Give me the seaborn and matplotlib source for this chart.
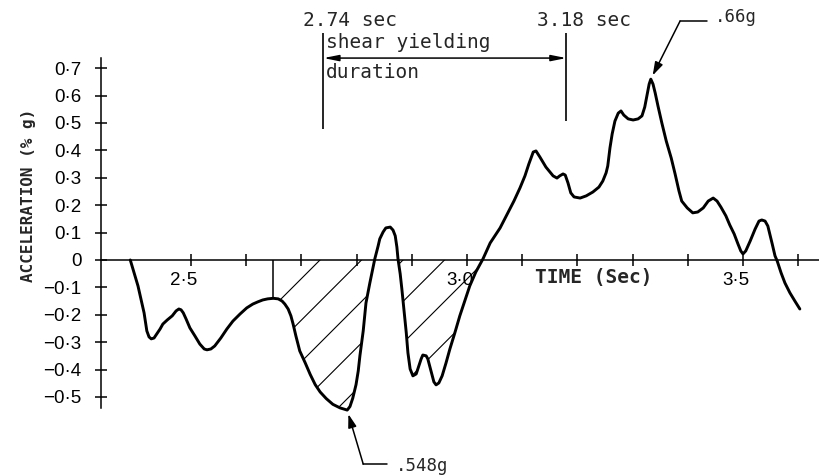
import numpy as np
import pandas as pd
import matplotlib
matplotlib.use("Agg")
import matplotlib.pyplot as plt
import seaborn as sns
from matplotlib.path import Path
from matplotlib.transforms import ScaledTranslation

# Ground acceleration record (time in seconds, acceleration in g)
time_s = np.array([
    2.390, 2.397, 2.404, 2.409, 2.415, 2.420, 2.424, 2.428, 2.433, 2.438,
    2.444, 2.449, 2.457, 2.466, 2.473, 2.478, 2.482, 2.486, 2.491, 2.498,
    2.507, 2.516, 2.524, 2.529, 2.536, 2.543, 2.554, 2.565, 2.576, 2.589,
    2.601, 2.612, 2.621, 2.630, 2.639, 2.649, 2.658, 2.665, 2.670, 2.676,
    2.681, 2.685, 2.690, 2.697, 2.707, 2.716, 2.725, 2.734, 2.745, 2.757,
    2.770, 2.783, 2.788, 2.793, 2.799, 2.803, 2.806, 2.812, 2.817, 2.824,
    2.833, 2.839, 2.842, 2.848, 2.853, 2.861, 2.866, 2.870, 2.873, 2.875,
    2.879, 2.882, 2.886, 2.890, 2.893, 2.897, 2.902, 2.908, 2.911, 2.917,
    2.920, 2.926, 2.929, 2.933, 2.937, 2.940, 2.944, 2.949, 2.955, 2.962,
    2.969, 2.978, 2.987, 2.996, 3.005, 3.016, 3.029, 3.042, 3.060, 3.072,
    3.085, 3.096, 3.105, 3.112, 3.120, 3.125, 3.132, 3.143, 3.156, 3.163,
    3.168, 3.174, 3.178, 3.183, 3.188, 3.194, 3.205, 3.216, 3.228, 3.239,
    3.246, 3.252, 3.255, 3.259, 3.263, 3.268, 3.274, 3.279, 3.284, 3.292,
    3.301, 3.310, 3.317, 3.322, 3.326, 3.330, 3.333, 3.337, 3.341, 3.346,
    3.353, 3.361, 3.370, 3.377, 3.384, 3.389, 3.399, 3.409, 3.418, 3.428,
    3.437, 3.446, 3.453, 3.460, 3.469, 3.476, 3.484, 3.491, 3.496, 3.500,
    3.505, 3.513, 3.522, 3.529, 3.534, 3.540, 3.545, 3.549, 3.553, 3.558,
    3.562, 3.569, 3.576, 3.585, 3.594, 3.603,
])
accel_g = np.array([
    0.000, -0.047, -0.095, -0.139, -0.193, -0.259, -0.281, -0.288, -0.285, -0.270,
    -0.252, -0.234, -0.219, -0.204, -0.186, -0.179, -0.182, -0.193, -0.215, -0.248,
    -0.277, -0.307, -0.325, -0.328, -0.325, -0.314, -0.285, -0.252, -0.223, -0.197,
    -0.175, -0.161, -0.153, -0.146, -0.142, -0.140, -0.142, -0.150, -0.161, -0.179,
    -0.204, -0.234, -0.277, -0.332, -0.376, -0.418, -0.455, -0.482, -0.506, -0.527,
    -0.540, -0.548, -0.535, -0.505, -0.455, -0.405, -0.350, -0.259, -0.157, -0.084,
    0.004, 0.051, 0.077, 0.102, 0.117, 0.120, 0.109, 0.088, 0.047, 0.004,
    -0.051, -0.106, -0.186, -0.266, -0.339, -0.398, -0.423, -0.416, -0.398, -0.361,
    -0.347, -0.350, -0.361, -0.391, -0.420, -0.445, -0.456, -0.449, -0.423, -0.376,
    -0.325, -0.266, -0.204, -0.150, -0.095, -0.044, 0.004, 0.062, 0.117, 0.164,
    0.215, 0.263, 0.307, 0.350, 0.394, 0.398, 0.376, 0.339, 0.307, 0.299,
    0.307, 0.314, 0.310, 0.281, 0.245, 0.230, 0.226, 0.234, 0.248, 0.266,
    0.288, 0.318, 0.343, 0.409, 0.460, 0.507, 0.536, 0.544, 0.529, 0.515,
    0.511, 0.515, 0.526, 0.558, 0.599, 0.642, 0.660, 0.642, 0.609, 0.562,
    0.500, 0.434, 0.372, 0.314, 0.252, 0.215, 0.190, 0.172, 0.175, 0.190,
    0.215, 0.226, 0.215, 0.193, 0.161, 0.128, 0.095, 0.058, 0.033, 0.022,
    0.033, 0.069, 0.113, 0.142, 0.146, 0.142, 0.124, 0.091, 0.058, 0.015,
    -0.004, -0.047, -0.084, -0.120, -0.150, -0.179,
])

y_ticks = [-0.5, -0.4, -0.3, -0.2, -0.1, 0.0, 0.1, 0.2, 0.3, 0.4, 0.5, 0.6, 0.7]
x_ticks = [2.5, 2.6, 2.7, 2.8, 2.9, 3.0, 3.1, 3.2, 3.3, 3.4, 3.5, 3.6]
x_labelled = [2.5, 3.0, 3.5]

yield_start, yield_end = 2.74, 3.18      # shear yielding duration (sec)
hatch_start, hatch_end = 2.649, 3.03     # hatched negative pulse

MONO = ["DejaVu Sans Mono"]
TICKFONT = ["Liberation Sans", "DejaVu Sans"]

sns.set_theme(style="white")
plt.rcParams["font.family"] = ["DejaVu Sans"]

def dotted(v):
    if abs(v) < 1e-9:
        return "0"
    s = f"{abs(v):.1f}".replace(".", "\u00b7")
    return ("\u2212" + s) if v < 0 else s

fig = plt.figure(figsize=(8.19, 4.75), dpi=100)
ax = fig.add_axes([0, 0, 1, 1])
ax.set_facecolor("white")
ax.set_xlim(2.154, 3.6377)
ax.set_ylim(-0.785, 0.949)

df = pd.DataFrame({"time": time_s, "accel": accel_g})
sns.lineplot(data=df, x="time", y="accel", ax=ax, color="black",
             linewidth=2.1, sort=False, estimator=None)
ax.set_xlabel("")
ax.set_ylabel("")

# axes drawn through the origin
for side in ("top", "right"):
    ax.spines[side].set_visible(False)
ax.spines["left"].set_position(("data", 2.337))
ax.spines["bottom"].set_position(("data", 0.0))
ax.spines["left"].set_bounds(-0.54, 0.737)
ax.spines["bottom"].set_bounds(2.337, 3.64)
for side in ("left", "bottom"):
    ax.spines[side].set_color("black")
    ax.spines[side].set_linewidth(1.1)

ax.set_yticks(y_ticks, [dotted(v) for v in y_ticks])
ax.set_xticks(x_ticks, [dotted(v) if v in x_labelled else "" for v in x_ticks])
ax.tick_params(axis="both", direction="inout", length=8, width=1.1,
               color="black", labelcolor="black", left=True, bottom=True)
ax.tick_params(axis="y", pad=10, labelsize=13.5)
ax.tick_params(axis="x", pad=5, labelsize=13.5)
for lab in ax.get_yticklabels() + ax.get_xticklabels():
    lab.set_fontfamily(TICKFONT)
shift = ScaledTranslation(-5 / 72, 0, fig.dpi_scale_trans)
for lab in ax.get_xticklabels():
    lab.set_transform(lab.get_transform() + shift)
ax.grid(False)

# hatched area of the negative pulse
mask = (time_s >= hatch_start) & (time_s <= hatch_end) & (accel_g <= 0)
region = ax.fill_between(time_s, accel_g, 0, where=mask, interpolate=True,
                         facecolor="none", edgecolor="none")
clip = Path.make_compound_path(*region.get_paths())
H = fig.get_figheight() * fig.dpi
inv = ax.transData.inverted()
for c in np.arange(580, 900, 41.5):
    p0 = inv.transform((c - 200, H - 200))
    p1 = inv.transform((c - 470, H - 470))
    ln, = ax.plot([p0[0], p1[0]], [p0[1], p1[1]], color="black", lw=0.8)
    ln.set_clip_path(clip, ax.transData)

# drop line at the start of the hatched pulse
ax.vlines(hatch_start, np.interp(hatch_start, time_s, accel_g), 0,
          color="black", lw=1.1)

# shear yielding duration bracket
ax.vlines(yield_start, 0.478, 0.828, color="black", lw=1.2)
ax.vlines(yield_end, 0.507, 0.828, color="black", lw=1.2)
ax.annotate("", xy=(yield_start, 0.737), xytext=(yield_end, 0.737),
            arrowprops=dict(arrowstyle="<|-|>,head_length=0.9,head_width=0.18",
                            color="black", lw=1.1, shrinkA=0, shrinkB=0,
                            mutation_scale=10))
ax.text(2.788, 0.854, f"{yield_start:.2f} sec", ha="center", va="baseline",
        fontsize=14, family=MONO)
ax.text(3.212, 0.854, f"{yield_end:.2f} sec", ha="center", va="baseline",
        fontsize=14, family=MONO)
ax.text(yield_start + 0.004, 0.774, "shear yielding", ha="left", va="baseline",
        fontsize=14, family=MONO)
ax.text(yield_start + 0.004, 0.664, "duration", ha="left", va="baseline",
        fontsize=14, family=MONO)

# peak and trough call-outs
i_pk = int(np.argmax(accel_g))
i_tr = int(np.argmin(accel_g))
pk_t, pk_v = time_s[i_pk], accel_g[i_pk]
tr_t, tr_v = time_s[i_tr], accel_g[i_tr]

ax.plot([3.386, 3.435], [0.872, 0.872], color="black", lw=1.1)
ax.annotate("", xy=(pk_t, pk_v), xytext=(3.386, 0.872),
            arrowprops=dict(arrowstyle="-|>,head_length=0.8,head_width=0.25",
                            color="black", lw=1.1, shrinkA=0, shrinkB=3,
                            mutation_scale=10))
ax.text(3.449, 0.869, f"{pk_v:.2f}g".lstrip("0"), ha="left", va="baseline",
        fontsize=12.5, family=MONO)

ax.plot([2.812, 2.855], [-0.745, -0.745], color="black", lw=1.1)
ax.annotate("", xy=(tr_t, tr_v), xytext=(2.812, -0.745),
            arrowprops=dict(arrowstyle="-|>,head_length=0.8,head_width=0.25",
                            color="black", lw=1.1, shrinkA=0, shrinkB=3,
                            mutation_scale=10))
ax.text(2.871, -0.770, f"{abs(tr_v):.3f}g".lstrip("0"), ha="left",
        va="baseline", fontsize=12.5, family=MONO)

# axis titles
ax.text(2.2065, 0.234, "ACCELERATION (% g)", rotation=90, ha="center",
        va="center", fontsize=11.5, family=MONO, weight="bold")
ax.text(3.230, -0.084, "TIME (Sec)", ha="center", va="baseline",
        fontsize=14, family=MONO, weight="bold")

fig.savefig("out.png", dpi=100, facecolor="white")
